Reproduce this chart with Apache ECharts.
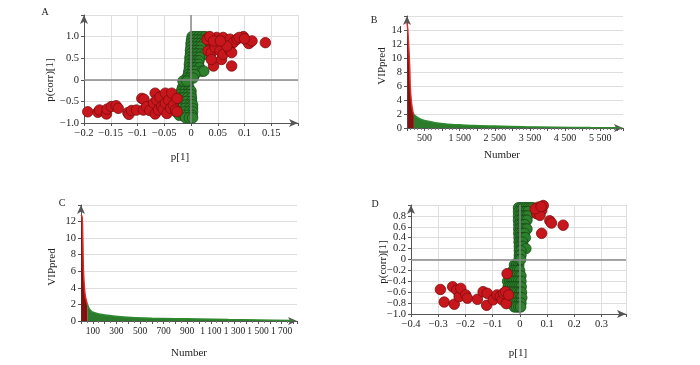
<!DOCTYPE html>
<html><head><meta charset="utf-8">
<script src="https://cdn.jsdelivr.net/npm/echarts@6/dist/echarts.min.js"></script>
<style>html,body{margin:0;padding:0;background:#fff}#c{width:700px;height:365px}</style>
</head><body><div id="c"></div>
<script>
// ---- Panel A (S-plot) ----
const aRed = [[-0.193,-0.74],[-0.174,-0.75],[-0.171,-0.70],[-0.158,-0.79],[-0.157,-0.68],[-0.149,-0.62],[-0.14,-0.60],[-0.136,-0.66],[-0.118,-0.76],[-0.116,-0.80],[-0.111,-0.71],[-0.102,-0.70],[-0.092,-0.43],[-0.088,-0.45],[-0.089,-0.70],[-0.083,-0.62],[-0.077,-0.71],[-0.07,-0.54],[-0.067,-0.31],[-0.064,-0.47],[-0.067,-0.79],[-0.061,-0.70],[-0.058,-0.40],[-0.055,-0.62],[-0.052,-0.68],[-0.048,-0.31],[-0.048,-0.54],[-0.045,-0.78],[-0.042,-0.47],[-0.038,-0.66],[-0.036,-0.31],[-0.033,-0.58],[-0.029,-0.70],[-0.026,-0.43],[-0.026,-0.74],
 [0.032,0.98],[0.038,0.86],[0.048,0.98],[0.051,0.82],[0.06,0.98],[0.067,0.86],[0.073,0.94],[0.079,0.86],[0.086,0.94],[0.098,1.0],[0.105,0.90],[0.108,0.84],[0.114,0.90],[0.139,0.86],[0.032,0.67],[0.038,0.63],[0.045,0.74],[0.054,0.67],[0.057,0.47],[0.06,0.59],[0.073,0.67],[0.076,0.63],[0.042,0.32],[0.076,0.32],[0.038,0.47],[0.067,0.78],[0.03,0.93],[0.035,1.0],[0.042,0.9],[0.055,0.9],[0.09,0.98],[0.1,0.95]];
const aGreen = [[-0.012,-0.1],[-0.006,-0.1],[-0.016,-0.18],[-0.01,-0.18],[-0.004,-0.18],[-0.018,-0.26],[-0.012,-0.26],[-0.005,-0.26],[0,-0.26],[-0.02,-0.34],[-0.013,-0.34],[-0.006,-0.34],[0,-0.34],[-0.021,-0.42],[-0.014,-0.42],[-0.007,-0.42],[0.001,-0.42],[-0.022,-0.5],[-0.015,-0.5],[-0.008,-0.5],[0.001,-0.5],[-0.025,-0.58],[-0.017,-0.58],[-0.009,-0.58],[-0.002,-0.58],[0.003,-0.58],[-0.027,-0.66],[-0.019,-0.66],[-0.011,-0.66],[-0.003,-0.66],[0.003,-0.66],[-0.028,-0.74],[-0.02,-0.74],[-0.012,-0.74],[-0.004,-0.74],[0.003,-0.74],[-0.022,-0.82],[-0.014,-0.82],[-0.006,-0.82],[0.002,-0.82],[-0.01,-0.88],[-0.003,-0.88],[0.003,-0.88],
 [0.002,1.0],[0.008,1.0],[0.014,1.0],[0.02,1.0],[0.026,1.0],[0.001,0.92],[0.007,0.92],[0.013,0.92],[0.019,0.92],[0.025,0.92],[0,0.84],[0.006,0.84],[0.012,0.84],[0.018,0.84],[0.024,0.84],[0,0.76],[0.006,0.76],[0.012,0.76],[0.018,0.76],[-0.001,0.68],[0.005,0.68],[0.011,0.68],[0.017,0.68],[-0.001,0.6],[0.005,0.6],[0.011,0.6],[0.018,0.6],[0.024,0.58],[-0.002,0.52],[0.004,0.52],[0.01,0.52],[0.016,0.52],[-0.002,0.44],[0.004,0.44],[0.01,0.44],[0.015,0.44],[-0.003,0.36],[0.003,0.36],[0.009,0.36],[0.014,0.36],[-0.003,0.28],[0.003,0.28],[0.009,0.28],[0.016,0.28],[-0.004,0.2],[0.002,0.2],[0.008,0.2],[0.02,0.2],[0.024,0.2],[-0.005,0.12],[0.001,0.12],[0.007,0.12],[-0.008,0.04],[-0.002,0.04],[0.004,0.04],[-0.015,-0.03],[-0.008,-0.03]];
const aXTicks = [-0.2,-0.15,-0.1,-0.05,0,0.05,0.1,0.15];
const aYTicks = [-1,-0.5,0,0.5,1];

// ---- Panel B (VIPpred) ----
const bRed = [[1,15],[20,14.2],[40,12.5],[60,10.6],[80,8.2],[92,5.9],[120,4.0],[157,2.6],[180,2.1],[196,1.9]];
const bGreen = [[196,1.9],[300,1.5],[420,1.2],[600,0.95],[800,0.75],[1165,0.55],[1500,0.45],[1900,0.35],[2500,0.28],[3360,0.18],[4200,0.12],[5230,0.06],[6100,0.02]];
const bXTicks = [500,1500,2500,3500,4500,5500];
const bYTicks = [0,2,4,6,8,10,12,14];

// ---- Panel C (VIPpred) ----
const cRed = [[1,12.8],[10,12.5],[15,10],[21,6],[30,3.9],[38,2.9],[52,2.1],[55,2.0]];
const cGreen = [[55,2.0],[70,1.5],[95,1.1],[180,0.78],[290,0.57],[430,0.41],[600,0.33],[800,0.28],[1000,0.24],[1250,0.17],[1500,0.12],[1800,0.05]];
const cXTicks = [100,300,500,700,900,1100,1300,1500,1700];
const cYTicks = [0,2,4,6,8,10,12];

// ---- Panel D (S-plot) ----
const dRed = [[-0.292,-0.55],[-0.278,-0.78],[-0.247,-0.50],[-0.241,-0.82],[-0.232,-0.56],[-0.223,-0.68],[-0.217,-0.53],[-0.199,-0.65],[-0.193,-0.71],[-0.156,-0.73],[-0.135,-0.59],[-0.122,-0.84],[-0.12,-0.62],[-0.098,-0.74],[-0.084,-0.65],[-0.072,-0.68],[-0.065,-0.74],[-0.06,-0.62],[-0.053,-0.59],[-0.05,-0.81],[-0.047,-0.26],[-0.041,-0.65],
 [0.068,0.96],[0.08,0.9],[0.062,0.84],[0.074,0.81],[0.086,0.99],[0.11,0.71],[0.116,0.67],[0.159,0.63],[0.08,0.48],[0.056,0.93],[0.078,0.97]];
const dGreen = [[-0.02,-0.1],[-0.012,-0.1],[-0.004,-0.1],[-0.025,-0.2],[-0.017,-0.2],[-0.009,-0.2],[-0.001,-0.2],[-0.035,-0.3],[-0.027,-0.3],[-0.019,-0.3],[-0.011,-0.3],[-0.003,-0.3],[0.004,-0.3],[-0.045,-0.4],[-0.037,-0.4],[-0.029,-0.4],[-0.021,-0.4],[-0.013,-0.4],[-0.005,-0.4],[0.004,-0.4],[-0.043,-0.5],[-0.035,-0.5],[-0.027,-0.5],[-0.019,-0.5],[-0.011,-0.5],[-0.003,-0.5],[0.005,-0.5],[-0.04,-0.6],[-0.032,-0.6],[-0.024,-0.6],[-0.016,-0.6],[-0.008,-0.6],[0,-0.6],[0.006,-0.6],[-0.038,-0.7],[-0.03,-0.7],[-0.022,-0.7],[-0.014,-0.7],[-0.006,-0.7],[0.002,-0.7],[0.007,-0.7],[-0.035,-0.8],[-0.027,-0.8],[-0.019,-0.8],[-0.011,-0.8],[-0.003,-0.8],[0.004,-0.8],[-0.02,-0.87],[-0.012,-0.87],[-0.004,-0.87],[0.003,-0.87],
 [-0.005,0.95],[0.004,0.95],[0.013,0.95],[0.022,0.95],[0.031,0.95],[0.04,0.95],[0.048,0.95],[-0.005,0.88],[0.004,0.88],[0.013,0.88],[0.022,0.88],[0.03,0.88],[-0.005,0.8],[0.004,0.8],[0.012,0.8],[0.02,0.8],[0.028,0.8],[-0.005,0.72],[0.003,0.72],[0.011,0.72],[0.019,0.72],[0.026,0.72],[-0.004,0.64],[0.003,0.64],[0.011,0.64],[0.018,0.64],[-0.004,0.56],[0.003,0.56],[0.01,0.56],[0.018,0.56],[0.026,0.56],[-0.004,0.48],[0.003,0.48],[0.01,0.48],[0.017,0.48],[-0.003,0.4],[0.004,0.4],[0.011,0.4],[0.02,0.4],[-0.003,0.32],[0.004,0.32],[0.01,0.32],[-0.002,0.24],[0.005,0.24],[0.012,0.24],[0.022,0.2],[-0.002,0.16],[0.004,0.16],[-0.002,0.08],[0.004,0.08],[-0.003,0],[0.003,0]];
const dXTicks = [-0.4,-0.3,-0.2,-0.1,0,0.1,0.2,0.3];
const dYTicks = [-1,-0.8,-0.6,-0.4,-0.2,0,0.2,0.4,0.6,0.8];

// ---- helpers ----
const FONT = 'Liberation Serif';
const RED = '#c8161d', RED_B = '#7e0c0c', GREEN = '#2d812d', GREEN_B = '#154a15';
function has(list, v){ return list.some(t => Math.abs(t - v) < 1e-9); }
function minus(s){ return String(s).replace('-', '\u2212'); }
function fmtPlain(list){ return v => has(list, v) ? minus(+v.toFixed(4)) : ''; }
function fmtFixed1(list){ return v => has(list, v) ? (Math.abs(v) < 1e-9 ? '0' : minus(v.toFixed(1))) : ''; }
function fmtThousand(list){ return v => has(list, v) ? String(Math.round(v)).replace(/\B(?=(\d{3})+(?!\d))/g, ' ') : ''; }
const axisLine = { show: true, onZero: false, lineStyle: { color: '#555', width: 1 }, symbol: ['none', 'arrow'], symbolSize: [6, 9] };
const labelStyle = { fontFamily: FONT, fontSize: 10.5, color: '#222', margin: 5 };
const split = { show: true, lineStyle: { color: '#dedede', width: 1 } };
function xAx(gi, min, max, interval, fmt, showSplit, fs){
  return { type: 'value', gridIndex: gi, min, max, interval, axisLine, axisTick: { show: true, length: 3, lineStyle: { color: '#555' } },
    axisLabel: Object.assign({}, labelStyle, { formatter: fmt, fontSize: fs || 10.5 }), splitLine: showSplit ? split : { show: false } };
}
function yAx(gi, min, max, interval, fmt){
  return { type: 'value', gridIndex: gi, min, max, interval, axisLine, axisTick: { show: true, length: 3, lineStyle: { color: '#555' } },
    axisLabel: Object.assign({ formatter: fmt }, labelStyle), splitLine: split };
}
function scatter(gi, data, fill, border){
  return { type: 'scatter', xAxisIndex: gi, yAxisIndex: gi, data, symbolSize: 10.5, z: 3,
    itemStyle: { color: fill, borderColor: border, borderWidth: 0.8, opacity: 1 } };
}
function zeroLines(gi){
  return { type: 'scatter', xAxisIndex: gi, yAxisIndex: gi, data: [], z: 2,
    markLine: { silent: true, symbol: ['none','none'], label: { show: false },
      lineStyle: { color: '#8a8a8a', width: 1.5, type: 'solid' }, data: [{ xAxis: 0 }, { yAxis: 0 }] } };
}
function area(gi, data, lineColor, fillColor){
  return { type: 'line', xAxisIndex: gi, yAxisIndex: gi, data, showSymbol: false, smooth: 0.3, z: 3,
    lineStyle: { color: lineColor, width: 1.5 }, areaStyle: { color: fillColor, opacity: 1 } };
}
function txt(x, y, s, rot, size){
  return { type: 'text', x, y, rotation: rot || 0,
    style: { text: s, font: (size || 11) + 'px "' + FONT + '"', fill: '#222', align: 'center', verticalAlign: 'middle' } };
}

const chart = echarts.init(document.getElementById('c'), null, { renderer: 'canvas' });
chart.setOption({
  animation: false,
  backgroundColor: '#fff',
  grid: [
    { left: 84, top: 15, width: 214, height: 108 },
    { left: 407, top: 16, width: 216, height: 112 },
    { left: 81, top: 205, width: 216, height: 116 },
    { left: 411, top: 205, width: 215, height: 109 }
  ],
  xAxis: [
    xAx(0, -0.2, 0.2, 0.05, fmtPlain(aXTicks), true),
    Object.assign(xAx(1, 0, 6150, 500, fmtThousand(bXTicks), false, 10), { minorTick: { show: true, splitNumber: 5, length: 2, lineStyle: { color: '#777' } } }),
    Object.assign(xAx(2, 0, 1830, 100, fmtThousand(cXTicks), false, 9.5), { minorTick: { show: true, splitNumber: 2, length: 2, lineStyle: { color: '#777' } } }),
    xAx(3, -0.4, 0.39, 0.1, fmtPlain(dXTicks), true)
  ],
  yAxis: [
    yAx(0, -1, 1.5, 0.5, fmtFixed1(aYTicks)),
    yAx(1, 0, 16, 2, v => has(bYTicks, v) ? String(v) : ''),
    yAx(2, 0, 14, 2, v => has(cYTicks, v) ? String(v) : ''),
    yAx(3, -1, 1.0, 0.2, fmtFixed1(dYTicks))
  ],
  series: [
    zeroLines(0),
    scatter(0, aGreen, GREEN, GREEN_B),
    scatter(0, aRed, RED, RED_B),
    area(1, bGreen, '#2f8a2f', '#2c7a2c'),
    area(1, bRed, '#e02a22', '#7f1210'),
    area(2, cGreen, '#2f8a2f', '#2c7a2c'),
    area(2, cRed, '#e02a22', '#7f1210'),
    zeroLines(3),
    scatter(3, dGreen, GREEN, GREEN_B),
    scatter(3, dRed, RED, RED_B)
  ],
  graphic: [
    txt(45, 12, 'A', 0, 10), txt(374, 20, 'B', 0, 10), txt(62, 203, 'C', 0, 10), txt(375, 204, 'D', 0, 10),
    txt(180, 157, 'p[1]'), txt(50, 80, 'p(corr)[1]', Math.PI / 2),
    txt(502, 155, 'Number'), txt(382, 66, 'VIPpred', Math.PI / 2),
    txt(189, 353, 'Number'), txt(52, 267, 'VIPpred', Math.PI / 2),
    txt(518, 353, 'p[1]'), txt(383, 262, 'p(corr)[1]', Math.PI / 2)
  ]
});
</script></body></html>
